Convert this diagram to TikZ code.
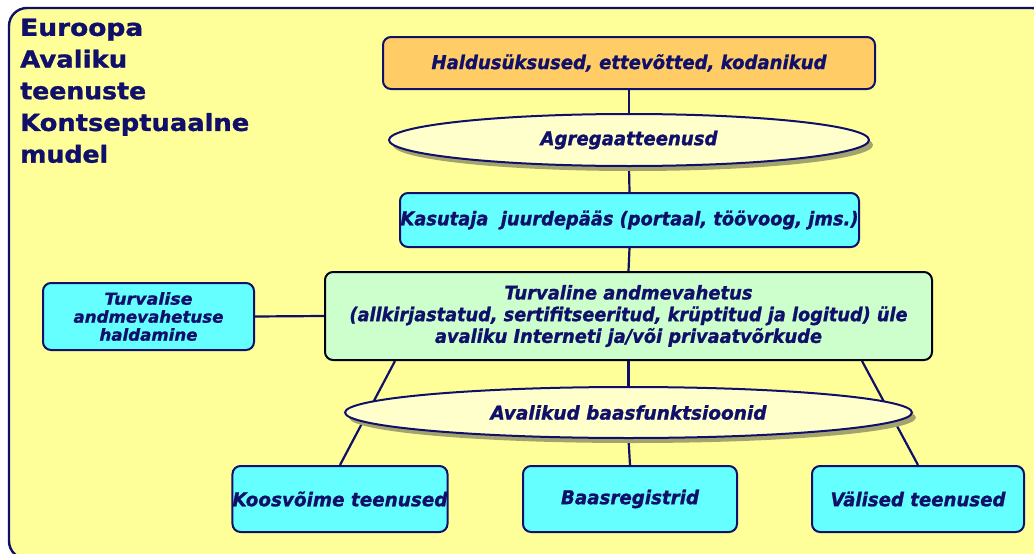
\documentclass[tikz,border=0pt]{standalone}
\usepackage{fontspec}
\setmainfont{DejaVu Sans}[BoldFeatures={FakeBold=1.2}, BoldItalicFeatures={FakeBold=1.2}]
\usetikzlibrary{shapes.geometric,shadows}
\definecolor{navy}{HTML}{10106A}
\definecolor{bgyellow}{HTML}{FFFF99}
\definecolor{orangebox}{HTML}{FFCC66}
\definecolor{cyanbox}{HTML}{66FFFF}
\definecolor{greenbox}{HTML}{CCFFCC}
\definecolor{ellfill}{HTML}{FFFFCC}
\definecolor{shadowc}{HTML}{A3A36E}
\newcommand{\fw}[2]{\resizebox{#1}{\height}{#2}}
\pgfdeclarelayer{back}
\pgfdeclarelayer{lines}
\pgfsetlayers{back,lines,main}
\tikzset{
  box/.style={draw=navy, line width=2pt, rounded corners=8pt, inner sep=0pt,
    text=navy, align=center, font=\fontsize{19}{21.7}\selectfont\bfseries\itshape},
  oval/.style={ellipse, draw=navy, line width=2pt, fill=ellfill, inner sep=0pt,
    text=navy, font=\fontsize{19}{22}\selectfont\bfseries\itshape,
    drop shadow={shadow xshift=4pt, shadow yshift=-5pt, fill=shadowc, opacity=1}},
  conn/.style={draw=navy, line width=2.2pt},
}
\begin{document}
\begin{tikzpicture}[x=1pt,y=-1pt]
\useasboundingbox (0,0) rectangle (1034,554);
\begin{pgfonlayer}{back}
\begin{scope}
\clip (0,0) rectangle (1034,554);
\fill[white] (0,0) rectangle (1034,554);
\draw[navy, line width=2.4pt, fill=bgyellow, rounded corners=18pt] (9,559) rectangle (1050,8);
\end{scope}
\end{pgfonlayer}

\node[anchor=north west, inner sep=0pt, align=left, text=navy,
  font=\fontsize{23.5}{31.7}\selectfont\bfseries] (title) at (20,18.5)
  {\fw{123pt}{Euroopa}\\\fw{107pt}{Avaliku}\\\fw{126pt}{teenuste}\\\fw{229pt}{Kontseptuaalne}\\\fw{88pt}{mudel}};

\node[box, fill=orangebox, minimum width=492pt, minimum height=52pt] (hald) at (629,63)
  {\fw{395pt}{Haldusüksused,\ ettevõtted, kodanikud}};
\node[oval, minimum width=480pt, minimum height=52pt] (agr) at (629,140)
  {\fw{177pt}{Agregaatteenusd}};
\node[box, fill=cyanbox, minimum width=459pt, minimum height=54pt] (kas) at (629.5,220)
  {\fw{458pt}{Kasutaja\ \ juurdepääs (portaal, töövoog, jms.)}};
\node[box, fill=greenbox, draw=black!80!navy, minimum width=607pt, minimum height=88pt] (turv) at (628.5,316)
  {\fw{248pt}{Turvaline andmevahetus}\\
   \fw{558pt}{(allkirjastatud, sertifitseeritud, krüptitud ja logitud) üle}\\
   \fw{387pt}{avaliku Interneti ja/või privaatvõrkude}};
\node[box, fill=cyanbox, minimum width=211pt, minimum height=67pt,
  font=\fontsize{16.5}{18}\selectfont\bfseries\itshape] (turvh) at (148.5,316.5)
  {\fw{88pt}{Turvalise}\\ \fw{150pt}{andmevahetuse}\\ \fw{98pt}{haldamine}};
\node[oval, minimum width=567pt, minimum height=51pt] (aval) at (628.5,412.5)
  {\fw{276pt}{Avalikud baasfunktsioonid}};
\node[box, fill=cyanbox, minimum width=214pt, minimum height=66pt] (koos) at (340,499)
  {\fw{215pt}{Koosvõime teenused}};
\node[box, fill=cyanbox, minimum width=214pt, minimum height=66pt] (baas) at (630,499)
  {\fw{138pt}{Baasregistrid}};
\node[box, fill=cyanbox, minimum width=212pt, minimum height=66pt] (val) at (918,499)
  {\fw{175pt}{Välised teenused}};

\begin{pgfonlayer}{lines}
\draw[conn] (hald.south) -- (agr.north);
\draw[conn] (agr.south) -- (kas.north);
\draw[conn] (kas.south) -- (turv.north);
\draw[conn] (turv.south) -- (aval.north);
\draw[conn] (aval.south) -- (baas.north);
\draw[conn] (turvh.east) -- (turv.west);
\draw[conn] ([xshift=-233.5pt]turv.south) -- (koos.north);
\draw[conn] ([xshift=233.5pt]turv.south) -- (val.north);
\end{pgfonlayer}
\end{tikzpicture}
\end{document}
